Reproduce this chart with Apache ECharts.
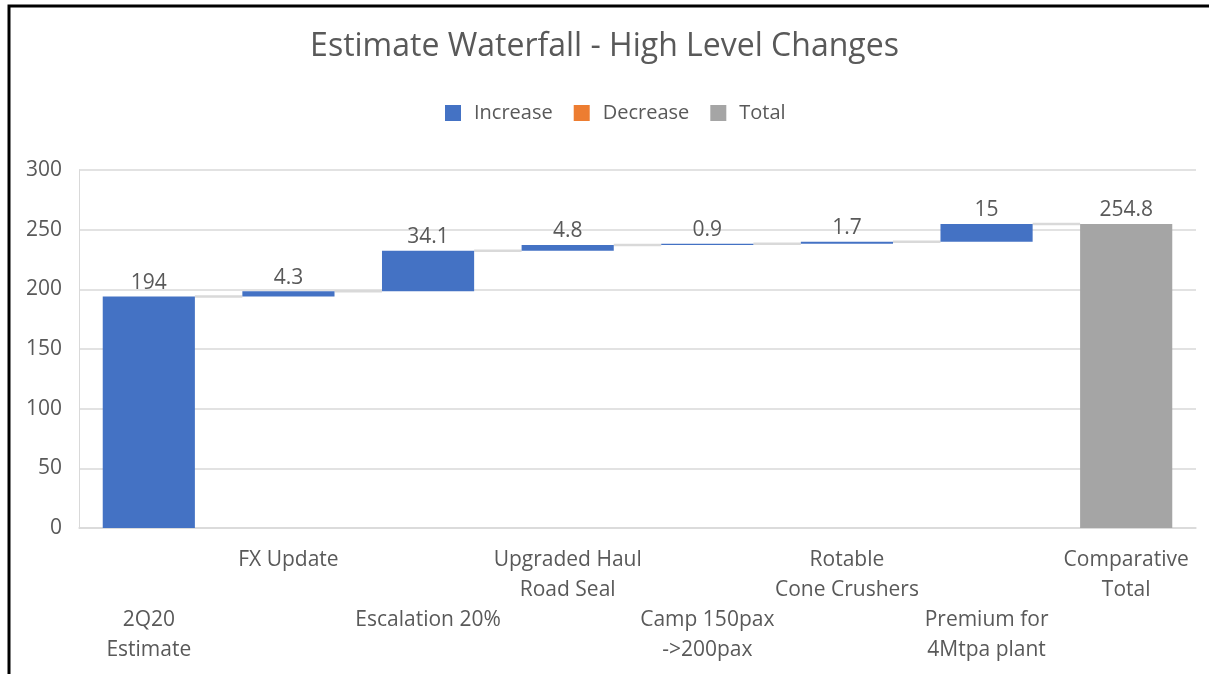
<!DOCTYPE html>
<html>
<head>
<meta charset="utf-8">
<script src="https://cdn.jsdelivr.net/npm/echarts@6/dist/echarts.min.js"></script>
<style>html,body{margin:0;padding:0;background:#fff}#c{width:1209px;height:674px}</style>
</head>
<body>
<div id="c"></div>
<script>
const categories = ['2Q20\nEstimate', 'FX Update', 'Escalation 20%', 'Upgraded Haul\nRoad Seal', 'Camp 150pax\n->200pax', 'Rotable\nCone Crushers', 'Premium for\n4Mtpa plant', 'Comparative\nTotal'];
const increases = [194, 4.3, 34.1, 4.8, 0.9, 1.7, 15, null];
const decreases = [null, null, null, null, null, null, null, null];
const totals = [null, null, null, null, null, null, null, 254.8];
const yTicks = { min: 0, max: 300, interval: 50 };

// running totals (waterfall bases)
const base = [];
const level = [];
let run = 0;
categories.forEach((c, i) => {
  if (totals[i] != null) { base.push(0); run = totals[i]; }
  else { base.push(run); run += (increases[i] || 0) - (decreases[i] || 0); }
  level.push(run);
});
const toD = a => a.map(v => v == null ? '-' : v);

const FONT = '"Open Sans", "Noto Sans", sans-serif';
const TXT = '#595959';
const FS = 21;
const chart = echarts.init(document.getElementById('c'));
const BAR_FRAC = 0.66;
chart.setOption({
  animation: false,
  textStyle: { fontFamily: FONT },
  title: {
    text: 'Estimate Waterfall - High Level Changes',
    left: 'center', top: 26,
    textStyle: { fontFamily: FONT, fontSize: 32, fontWeight: 'normal', color: TXT }
  },
  legend: {
    data: ['Increase', 'Decrease', 'Total'],
    top: 98, left: 440,
    icon: 'rect', itemWidth: 16, itemHeight: 16, itemGap: 21,
    textStyle: { fontFamily: FONT, fontSize: 20, color: TXT, padding: [0, 0, 0, 8] }
  },
  grid: { left: 79, right: 13, top: 170, bottom: 146, containLabel: false },
  xAxis: {
    type: 'category', data: categories,
    axisLine: { show: true, lineStyle: { color: '#D9D9D9', width: 1.5 } },
    axisTick: { show: false },
    axisLabel: {
      interval: 0, margin: 17, lineHeight: 30,
      fontFamily: FONT, fontSize: FS, color: TXT,
      formatter: (v, i) => (i % 2 === 0 ? '\n\n' : '') + v
    }
  },
  yAxis: {
    type: 'value', min: yTicks.min, max: yTicks.max, interval: yTicks.interval,
    axisLine: { show: true, lineStyle: { color: '#D9D9D9' } },
    axisTick: { show: false },
    splitLine: { lineStyle: { color: '#D9D9D9', width: 1.5 } },
    axisLabel: { margin: 17, fontFamily: FONT, fontSize: FS, color: TXT }
  },
  graphic: [{
    type: 'rect', silent: true, z: 100,
    shape: { x: 9, y: 6, width: 1400, height: 900 },
    style: { fill: 'none', stroke: '#000', lineWidth: 3 }
  }],
  series: [
    {
      name: 'base', type: 'bar', stack: 'w', data: base,
      barCategoryGap: '34%',
      itemStyle: { color: 'transparent' }, silent: true
    },
    {
      name: 'Increase', type: 'bar', stack: 'w', data: toD(increases),
      itemStyle: { color: '#4472C4' },
      label: { show: true, position: 'top', distance: 3, fontFamily: FONT, fontSize: FS, color: TXT }
    },
    {
      name: 'Decrease', type: 'bar', stack: 'w', data: toD(decreases),
      itemStyle: { color: '#ED7D31' },
      label: { show: true, position: 'top', fontFamily: FONT, fontSize: FS, color: TXT }
    },
    {
      name: 'Total', type: 'bar', stack: 'w', data: toD(totals),
      itemStyle: { color: '#A5A5A5' },
      label: { show: true, position: 'top', distance: 3, fontFamily: FONT, fontSize: FS, color: TXT }
    },
    {
      name: 'connector', type: 'custom', silent: true, z: 1,
      data: level.slice(0, -1).map((v, i) => [i, v]),
      renderItem: (params, api) => {
        const i = api.value(0), v = api.value(1);
        const p1 = api.coord([i, v]);
        const p2 = api.coord([i + 1, v]);
        const half = api.size([1, 0])[0] * BAR_FRAC / 2;
        return {
          type: 'line',
          shape: { x1: p1[0] + half, y1: p1[1], x2: p2[0] - half, y2: p1[1] },
          style: { stroke: '#D9D9D9', lineWidth: 2.5 }
        };
      }
    }
  ]
});
</script>
</body>
</html>
